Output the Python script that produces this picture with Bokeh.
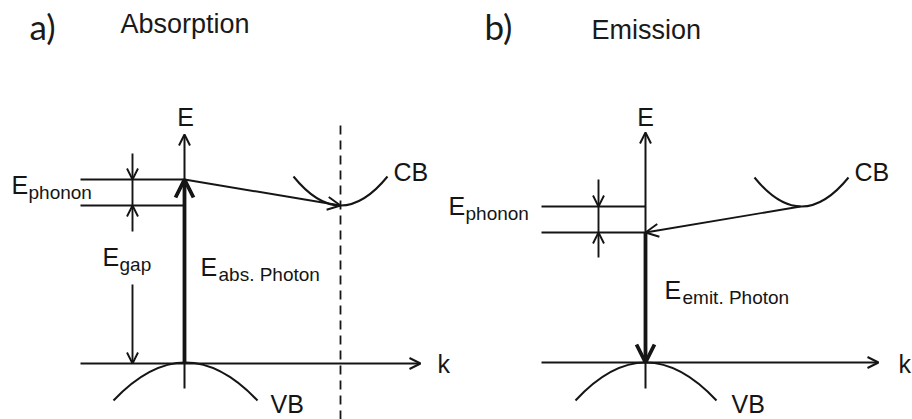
from bokeh.plotting import figure
from bokeh.models import Range1d, Arrow, OpenHead, ColumnDataSource
from bokeh.core.properties import value
from bokeh.embed import file_html
from bokeh.resources import INLINE

INK = "#151515"

# ---------------- panel a: absorption (picture units) ----------------
a_k_axis = [80, 363, 420, 363]          # x0, y0, x1, y1
a_e_axis = [184, 388, 184, 134]
a_levels_y = [179, 205]
a_levels_x = [80, 184]
a_dim_x = 132
a_dim_ends = [153, 231]                 # outer ends of the E_phonon marker
a_gap_dim = [284, 363]
a_photon = [184, 363, 184, 179]
a_phonon_arrow = [184, 179, 340, 205]
a_cb = [293, 176, 340, 234, 387, 176]   # start, control, end
a_vb = [113, 400, 185, 324, 257, 400]
a_dash_x = 340
a_dash_y = [125, 419]

# ---------------- panel b: emission ----------------
b_k_axis = [541, 362, 878, 362]
b_e_axis = [645, 388, 645, 132]
b_levels_y = [206, 232]
b_levels_x = [541, 645]
b_dim_x = 598
b_dim_ends = [179, 257]
b_photon = [645, 232, 645, 362]
b_phonon_arrow = [800, 206, 645, 232]
b_cb = [754, 177, 801, 235, 848, 177]
b_vb = [575, 400, 645, 324, 716, 400]

# ---------------- texts (y = vertical middle of the text) ----------------
panel_tags = ["a)", "b)"]
panel_tag_x = [29, 484]
panel_tag_y = [25, 25]
panel_titles = ["Absorption", "Emission"]
panel_title_x = [120, 591]
panel_title_y = [23, 29]

big_text = ["E", "CB", "k", "VB", "E", "E", "E",
            "E", "CB", "k", "VB", "E", "E"]
big_x = [185, 393, 437, 270, 11, 102, 200,
         645, 854, 898, 731, 448, 664]
big_y = [116, 171, 363, 403, 184, 256, 266,
         116, 171, 363, 403, 205, 289]
big_align = ["center", "left", "left", "left", "left", "left", "left",
             "center", "left", "left", "left", "left", "left"]

sub_text = ["phonon", "gap", "abs. Photon", "phonon", "emit. Photon"]
sub_x = [28, 119, 218, 465, 682]
sub_y = [192, 264, 274, 213, 297]

p = figure(width=912, height=419, output_backend="svg", toolbar_location=None,
           x_range=Range1d(0, 912), y_range=Range1d(419, 0), min_border=0)
p.axis.visible = False
p.grid.visible = False
p.outline_line_color = None
p.background_fill_color = "white"
p.border_fill_color = "white"


def arrow(coords, lw, size, head_lw=None):
    x0, y0, x1, y1 = coords
    p.add_layout(Arrow(x_start=x0, y_start=y0, x_end=x1, y_end=y1,
                       line_width=lw, line_color=INK,
                       end=OpenHead(size=size, line_width=head_lw or lw, line_color=INK)))


def panel(k_axis, e_axis, levels_y, levels_x, dim_x, dim_ends, photon, ph_arrow, cb, vb):
    arrow(k_axis, 2.0, 11)
    arrow(e_axis, 2.0, 11)
    p.segment(x0=[levels_x[0]] * 2, y0=levels_y, x1=[levels_x[1]] * 2, y1=levels_y,
              line_color=INK, line_width=1.9)
    # E_phonon marker
    arrow([dim_x, dim_ends[0], dim_x, levels_y[0]], 1.9, 11)
    arrow([dim_x, dim_ends[1], dim_x, levels_y[1]], 1.9, 11)
    p.segment(x0=[dim_x], y0=[levels_y[0]], x1=[dim_x], y1=[levels_y[1]],
              line_color=INK, line_width=1.9)
    arrow(photon, 3.8, 18, 3.8)
    arrow(ph_arrow, 1.9, 13)
    for c in (cb, vb):
        p.quadratic(x0=[c[0]], y0=[c[1]], cx=[c[2]], cy=[c[3]], x1=[c[4]], y1=[c[5]],
                    line_color=INK, line_width=2.0)


panel(a_k_axis, a_e_axis, a_levels_y, a_levels_x, a_dim_x, a_dim_ends,
      a_photon, a_phonon_arrow, a_cb, a_vb)
arrow([a_dim_x, a_gap_dim[0], a_dim_x, a_gap_dim[1]], 1.9, 11)
p.segment(x0=[a_dash_x], y0=[a_dash_y[0]], x1=[a_dash_x], y1=[a_dash_y[1]],
          line_color=INK, line_width=1.8, line_dash="9 6")

panel(b_k_axis, b_e_axis, b_levels_y, b_levels_x, b_dim_x, b_dim_ends,
      b_photon, b_phonon_arrow, b_cb, b_vb)

p.text(x=panel_tag_x, y=panel_tag_y, text=panel_tags, text_font=value("Lato"),
       text_font_size="35px", text_color="#1a1a1a", text_baseline="middle",
       text_align="left")
p.text(x=panel_title_x, y=panel_title_y, text=panel_titles,
       text_font=value("Liberation Sans"), text_font_size="27px", text_color="#1a1a1a",
       text_baseline="middle", text_align="left")
p.text(x="x", y="y", text="t", text_align="a",
       source=ColumnDataSource(dict(x=big_x, y=big_y, t=big_text, a=big_align)),
       text_font=value("Liberation Sans"), text_font_size="25px", text_color=INK,
       text_baseline="middle")
p.text(x=sub_x, y=sub_y, text=sub_text, text_font=value("Liberation Sans"),
       text_font_size="19px", text_color=INK, text_baseline="middle",
       text_align="left")

open("out.html", "w").write(file_html(p, INLINE))
